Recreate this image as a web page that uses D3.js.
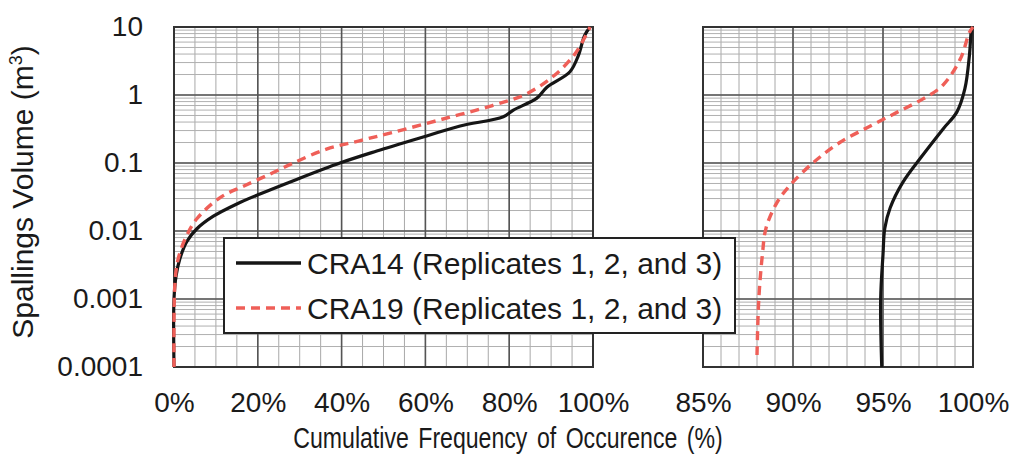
<!DOCTYPE html>
<html>
<head>
<meta charset="utf-8">
<script src="https://cdn.jsdelivr.net/npm/d3@7"></script>
<style>
  body { margin: 0; background: #fff; }
  text { font-family: "Liberation Sans", Arial, sans-serif; fill: #1a1a1a; }
</style>
</head>
<body>
<div id="chart"></div>
<script>
// cumulative frequency (%) and spalling volume (m3)
const leftPct14 = [0, 0, 0.5, 1.4, 3, 5.4, 9.4, 15, 20.5, 28.5, 39.6, 48.4, 60.3, 68.3, 78.6, 81, 86.6, 89, 94.5, 96.5, 98, 99.3];
const leftVol14 = [0.0001, 0.001, 0.0022, 0.0039, 0.0069, 0.0107, 0.0165, 0.025, 0.035, 0.055, 0.1, 0.15, 0.25, 0.35, 0.48, 0.6, 0.9, 1.3, 2.2, 3.8, 7.5, 10];
const leftPct19 = [0, 0.2, 1, 3, 5.4, 11, 16.7, 23, 28.5, 36.4, 44, 52, 64, 76, 84, 90.6, 95.4, 97.8, 99.3];
const leftVol19 = [0.0001, 0.0016, 0.0039, 0.0085, 0.015, 0.031, 0.046, 0.069, 0.1, 0.16, 0.21, 0.28, 0.44, 0.7, 1.03, 1.9, 3.8, 6.6, 10];
const rightPct14 = [94.93, 94.87, 95, 95.1, 95.4, 96.1, 97.2, 98.35, 99.1, 99.55, 99.8, 99.9, 99.95];
const rightVol14 = [0.0001, 0.001, 0.0045, 0.011, 0.022, 0.052, 0.13, 0.32, 0.56, 1.24, 3.8, 8.6, 10];
const rightPct19 = [88, 88.1, 88.3, 88.5, 89.1, 89.8, 91.1, 92.6, 94.3, 95.8, 97.2, 98.3, 99.3, 99.8, 100];
const rightVol19 = [0.00015, 0.001, 0.0045, 0.011, 0.026, 0.046, 0.1, 0.2, 0.35, 0.56, 0.87, 1.37, 3.4, 8.3, 10];

const yTicks = [0.0001, 0.001, 0.01, 0.1, 1, 10];
const yTickLabels = ['0.0001', '0.001', '0.01', '0.1', '1', '10'];
const leftXTicks = [0, 20, 40, 60, 80, 100];
const rightXTicks = [85, 90, 95, 100];
const seriesNames = ['CRA14 (Replicates 1, 2, and 3)', 'CRA19 (Replicates 1, 2, and 3)'];

const width = 1014;
const height = 460;
const black = '#151515';
const red = '#ef5f58';

const svg = d3.select('#chart').append('svg')
  .attr('width', width)
  .attr('height', height);

const yScale = d3.scaleLog().domain([0.0001, 10]).range([367, 27]);

const panels = [
  { x: d3.scaleLinear().domain([0, 100]).range([174, 593]), ticks: leftXTicks, minor: 5,
    s14: [leftPct14, leftVol14], s19: [leftPct19, leftVol19] },
  { x: d3.scaleLinear().domain([85, 100]).range([703, 973]), ticks: rightXTicks, minor: 1,
    s14: [rightPct14, rightVol14], s19: [rightPct19, rightVol19] }
];

panels.forEach((p) => {
  const g = svg.append('g');
  const [x0, x1] = p.x.range();
  const [y0, y1] = yScale.range();

  // minor grid
  const xMinor = d3.range(p.x.domain()[0], p.x.domain()[1] + 0.001, p.minor);
  g.selectAll('.vminor').data(xMinor).enter().append('line')
    .attr('x1', (d) => p.x(d)).attr('x2', (d) => p.x(d))
    .attr('y1', y1).attr('y2', y0)
    .attr('stroke', '#a8a8a8').attr('stroke-width', 1);
  g.selectAll('.hminor').data(yScale.ticks()).enter().append('line')
    .attr('x1', x0).attr('x2', x1)
    .attr('y1', (d) => yScale(d)).attr('y2', (d) => yScale(d))
    .attr('stroke', '#b0b0b0').attr('stroke-width', 1);

  // major grid
  g.selectAll('.vmajor').data(p.ticks).enter().append('line')
    .attr('x1', (d) => p.x(d)).attr('x2', (d) => p.x(d))
    .attr('y1', y1).attr('y2', y0)
    .attr('stroke', '#555').attr('stroke-width', 1.6);
  g.selectAll('.hmajor').data(yTicks).enter().append('line')
    .attr('x1', x0).attr('x2', x1)
    .attr('y1', (d) => yScale(d)).attr('y2', (d) => yScale(d))
    .attr('stroke', '#555').attr('stroke-width', 1.6);

  g.append('rect')
    .attr('x', x0).attr('y', y1)
    .attr('width', x1 - x0).attr('height', y0 - y1)
    .attr('fill', 'none').attr('stroke', '#333').attr('stroke-width', 2);

  const line = d3.line()
    .x((d) => p.x(d[0]))
    .y((d) => yScale(d[1]))
    .curve(d3.curveCatmullRom.alpha(0.5));

  g.append('path')
    .datum(d3.zip(p.s14[0], p.s14[1]))
    .attr('d', line)
    .attr('fill', 'none').attr('stroke', black).attr('stroke-width', 3.2);

  g.append('path')
    .datum(d3.zip(p.s19[0], p.s19[1]))
    .attr('d', line)
    .attr('fill', 'none').attr('stroke', red).attr('stroke-width', 3.4)
    .attr('stroke-dasharray', '9,6');

  // x axis labels
  const xAxis = g.append('g')
    .attr('transform', `translate(0, ${y0 + 25})`)
    .call(d3.axisBottom(p.x).tickValues(p.ticks).tickSize(0).tickPadding(0).tickFormat((d) => d + '%'));
  xAxis.select('.domain').remove();
  xAxis.selectAll('text').style('font-size', '28px').attr('fill', '#1a1a1a');
});

// y axis
const yAxis = svg.append('g')
  .attr('transform', 'translate(143, 0)')
  .call(d3.axisLeft(yScale).tickValues(yTicks).tickSize(0).tickPadding(0)
    .tickFormat((d, i) => yTickLabels[i]));
yAxis.select('.domain').remove();
yAxis.selectAll('text').style('font-size', '28px').attr('fill', '#1a1a1a');

// axis titles (the x title is narrower in the original, so squeeze it)
svg.append('text')
  .attr('transform', 'translate(508, 448) scale(0.77, 1)')
  .attr('text-anchor', 'middle')
  .style('font-size', '30px')
  .style('word-spacing', '4px')
  .text('Cumulative Frequency of Occurence (%)');

const yTitle = svg.append('text')
  .attr('transform', 'translate(33, 192) rotate(-90)')
  .attr('text-anchor', 'middle')
  .style('font-size', '30px');
yTitle.append('tspan').text('Spallings Volume (m');
yTitle.append('tspan').attr('dy', -11).style('font-size', '18px').text('3');
yTitle.append('tspan').attr('dy', 11).text(')');

// legend
const legend = svg.append('g');
legend.append('rect')
  .attr('x', 224).attr('y', 238)
  .attr('width', 511).attr('height', 95)
  .attr('fill', '#fff').attr('stroke', '#222').attr('stroke-width', 2);

const legendY = d3.scalePoint().domain(seriesNames).range([263, 308]);
seriesNames.forEach((name, i) => {
  const yy = legendY(name);
  legend.append('line')
    .attr('x1', 236).attr('x2', 301)
    .attr('y1', yy).attr('y2', yy)
    .attr('stroke', i === 0 ? black : red)
    .attr('stroke-width', 3.4)
    .attr('stroke-dasharray', i === 0 ? null : '9,6');
  legend.append('text')
    .attr('x', 307).attr('y', yy)
    .attr('dy', '0.36em')
    .style('font-size', '30px')
    .text(name);
});
</script>
</body>
</html>
